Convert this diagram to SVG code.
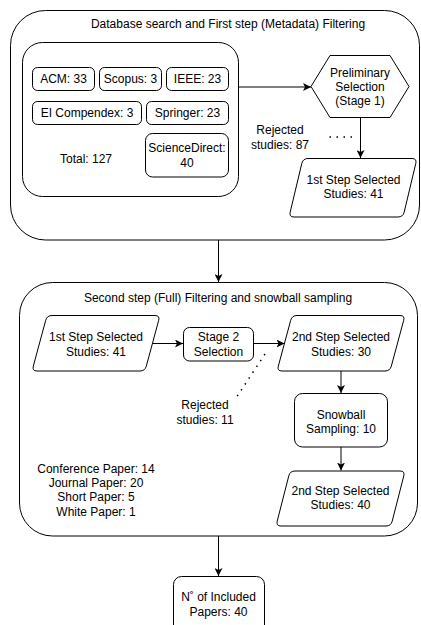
<svg xmlns="http://www.w3.org/2000/svg" width="421" height="625" viewBox="0 0 421 625">
<defs>
<marker id="arr" viewBox="0 0 10 10" refX="10" refY="5" markerWidth="8" markerHeight="8" markerUnits="userSpaceOnUse" orient="auto">
<path d="M0,0 L10,5 L0,10 L2.5,5 Z" fill="#000"/>
</marker>
<style>
.box{fill:#fff;stroke:#000;stroke-width:1}
.grp{fill:none;stroke:#000;stroke-width:1}
text{font-family:"Liberation Sans",Arial,sans-serif;font-size:12px;fill:#000;text-anchor:middle}
.conn{fill:none;stroke:#000;stroke-width:1}
.arrow{marker-end:url(#arr)}
.dot{fill:none;stroke:#000;stroke-width:1.5;stroke-dasharray:1.5 5.5}
</style>
</defs>
<rect width="421" height="625" fill="#fff"/>

<g id="group1">
<rect class="grp" x="10.5" y="10.5" width="409" height="229.5" rx="35" ry="35"/>
<text x="228" y="28">Database search and First step (Metadata) Filtering</text>
</g>
<g id="databases">
<rect class="grp" x="22.5" y="42.5" width="216" height="154" rx="20" ry="20"/>
<text x="86" y="162.5">Total: 127</text>
</g>
<g id="acm"><rect class="box" x="32.5" y="67.5" width="62" height="23" rx="5"/><text x="63.5" y="83">ACM: 33</text></g>
<g id="scopus"><rect class="box" x="99.5" y="67.5" width="62" height="23" rx="5"/><text x="130.5" y="83">Scopus: 3</text></g>
<g id="ieee"><rect class="box" x="166.5" y="67.5" width="62" height="23" rx="5"/><text x="197.5" y="83">IEEE: 23</text></g>
<g id="ei"><rect class="box" x="32.5" y="101.5" width="109" height="23" rx="5"/><text x="87" y="117">EI Compendex: 3</text></g>
<g id="springer"><rect class="box" x="146.5" y="101.5" width="82" height="23" rx="5"/><text x="187.5" y="117">Springer: 23</text></g>
<g id="sciencedirect"><rect class="box" x="145.5" y="133.5" width="83" height="43.5" rx="7"/><text x="187" y="151.5">ScienceDirect:</text><text x="187" y="166.5">40</text></g>

<g id="prelim">
<path class="box" d="M311,86.5 L330,55.5 L390,55.5 L409,86.5 L390,117.5 L330,117.5 Z"/>
<text x="360" y="76.5">Preliminary</text><text x="360" y="90.5">Selection</text><text x="360" y="104.5">(Stage 1)</text>
</g>
<g id="rejected87"><text x="280" y="134">Rejected</text><text x="280" y="149">studies: 87</text></g>
<g id="step1">
<path class="box" d="M308,158.5 L412,158.5 Q417,158.5 415.8,163.4 L404.2,212.1 Q403,217 398,217 L294,217 Q289,217 290.2,212.1 L301.8,163.4 Q303,158.5 308,158.5 Z"/>
<text x="353.5" y="184">1st Step Selected</text><text x="353.5" y="197.5">Studies: 41</text>
</g>

<g id="group2">
<rect class="grp" x="19.5" y="282.5" width="398" height="253.5" rx="33" ry="33"/>
<text x="218" y="301.5">Second step (Full) Filtering and snowball sampling</text>
</g>
<g id="step1b">
<path class="box" d="M52,315.5 L155,315.5 Q160,315.5 158.7,320.3 L146.3,366.2 Q145,371 140,371 L37,371 Q32,371 33.3,366.2 L45.7,320.3 Q47,315.5 52,315.5 Z"/>
<text x="96" y="341">1st Step Selected</text><text x="96" y="356">Studies: 41</text>
</g>
<g id="stage2">
<rect class="box" x="183.5" y="327.5" width="70" height="33.5" rx="6"/>
<text x="218.5" y="341">Stage 2</text><text x="218.5" y="355.5">Selection</text>
</g>
<g id="step2">
<path class="box" d="M297,315.5 L400,315.5 Q405,315.5 403.7,320.3 L391.3,366.2 Q390,371 385,371 L282,371 Q277,371 278.3,366.2 L290.7,320.3 Q292,315.5 297,315.5 Z"/>
<text x="341" y="341">2nd Step Selected</text><text x="341" y="356">Studies: 30</text>
</g>
<g id="rejected11"><text x="205" y="409">Rejected</text><text x="205" y="424">studies: 11</text></g>
<g id="snowball">
<rect class="box" x="294.5" y="393.5" width="93" height="53.5" rx="8"/>
<text x="341" y="419">Snowball</text><text x="341" y="433">Sampling: 10</text>
</g>
<g id="step2b">
<path class="box" d="M295,471 L400,471 Q405,471 403.8,475.8 L392.2,521.2 Q391,526 386,526 L281,526 Q276,526 277.2,521.2 L288.8,475.8 Q290,471 295,471 Z"/>
<text x="340.5" y="494.5">2nd Step Selected</text><text x="340.5" y="509">Studies: 40</text>
</g>
<g id="types">
<text x="96" y="472.5">Conference Paper: 14</text>
<text x="96" y="486.8">Journal Paper: 20</text>
<text x="96" y="501">Short Paper: 5</text>
<text x="96" y="515.5">White Paper: 1</text>
</g>
<g id="included">
<rect class="box" x="173.5" y="576.5" width="91" height="60" rx="8"/>
<text x="218.5" y="600.5">N˚ of Included</text><text x="218.5" y="615.5">Papers: 40</text>
</g>

<g id="connectors">
<line class="conn arrow" x1="238.5" y1="87" x2="311" y2="87"/>
<line class="conn arrow" x1="360.5" y1="117.5" x2="360.5" y2="158"/>
<line class="dot" x1="352" y1="137" x2="329" y2="137"/>
<line class="conn arrow" x1="218.5" y1="240" x2="218.5" y2="282"/>
<line class="conn arrow" x1="152.5" y1="343.5" x2="183" y2="343.5"/>
<line class="conn arrow" x1="253.5" y1="343.5" x2="284.5" y2="343.5"/>
<line class="dot" x1="265" y1="354" x2="236" y2="398"/>
<line class="conn arrow" x1="341" y1="371" x2="341" y2="393"/>
<line class="conn arrow" x1="341" y1="447" x2="341" y2="470.5"/>
<line class="conn arrow" x1="218.5" y1="536" x2="218.5" y2="576"/>
</g>
</svg>
